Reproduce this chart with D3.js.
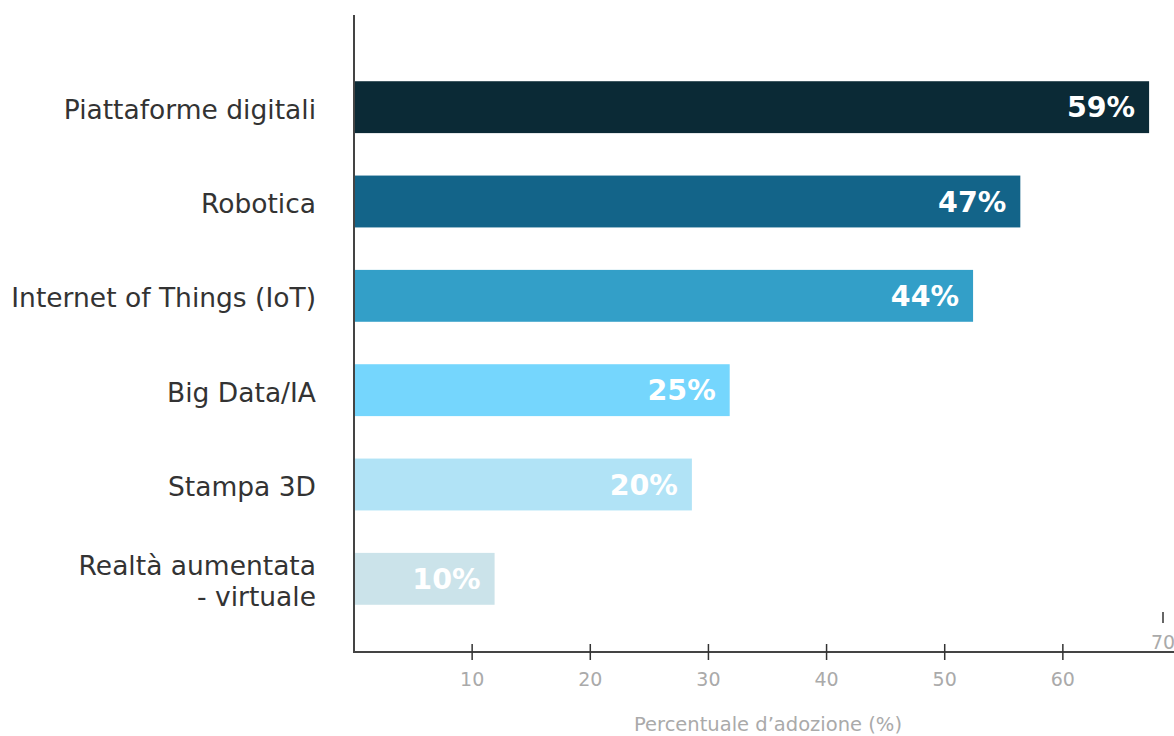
<!DOCTYPE html>
<html>
<head>
<meta charset="utf-8">
<script src="https://cdn.jsdelivr.net/npm/d3@7"></script>
<style>
    body { margin: 0; background: #fff; }
    svg { display: block; font-family: "DejaVu Sans", sans-serif; }
</style>
</head>
<body>
<div id="chart"></div>
<script>
// categories, top to bottom
const categories = [
    "Piattaforme digitali",
    "Robotica",
    "Internet of Things (IoT)",
    "Big Data/IA",
    "Stampa 3D",
    "Realtà aumentata|- virtuale"
];

// bar lengths as drawn
const barValues = [67.3, 56.4, 52.4, 31.8, 28.6, 11.9];

// labels printed inside the bars
const barLabels = ["59%", "47%", "44%", "25%", "20%", "10%"];

const barColors = ["#0b2a36", "#136489", "#339fc8", "#75d6fd", "#b1e3f6", "#cbe3ea"];

const xTicks = [10, 20, 30, 40, 50, 60, 70];
const axisTitle = "Percentuale d\u2019adozione (%)";

// dimensions
const width = 1174, height = 736;
const margin = { top: 15, left: 354, bottom: 84 };
const axisY = height - margin.bottom;

const svg = d3.select("#chart").append("svg")
    .attr("width", width)
    .attr("height", height);

// scales
const x = d3.scaleLinear().domain([0, 70]).range([margin.left, margin.left + 827]);
const y = d3.scaleBand()
    .domain(categories)
    .range([60, 626])
    .paddingInner(0.45)
    .paddingOuter(0.225);

// bars
svg.append("g").selectAll("rect")
    .data(categories)
    .enter().append("rect")
    .attr("x", x(0))
    .attr("y", d => y(d))
    .attr("width", (d, i) => x(barValues[i]) - x(0))
    .attr("height", y.bandwidth())
    .attr("fill", (d, i) => barColors[i]);

// values inside bars
svg.append("g").selectAll("text")
    .data(categories)
    .enter().append("text")
    .attr("x", (d, i) => x(barValues[i]) - 14)
    .attr("y", d => y(d) + y.bandwidth() / 2)
    .attr("dy", "0.36em")
    .attr("text-anchor", "end")
    .attr("fill", "#fff")
    .attr("font-weight", "bold")
    .attr("font-size", 28.5)
    .text((d, i) => barLabels[i]);

// category labels (two-line one uses separate text elements)
const catG = svg.append("g");
categories.forEach(d => {
    const lines = d.split("|");
    const cy = y(d) + y.bandwidth() / 2;
    lines.forEach((l, j) => {
        catG.append("text")
            .attr("x", 316)
            .attr("y", cy + 2 + (j - (lines.length - 1) / 2) * 31)
            .attr("dy", "0.36em")
            .attr("text-anchor", "end")
            .attr("fill", "#333")
            .attr("font-size", 26.5)
            .text(l);
    });
});

// y axis line
svg.append("line")
    .attr("x1", x(0)).attr("x2", x(0))
    .attr("y1", margin.top).attr("y2", axisY)
    .attr("stroke", "#444").attr("stroke-width", 2);

// x axis line
svg.append("line")
    .attr("x1", x(0) - 1).attr("x2", width)
    .attr("y1", axisY).attr("y2", axisY)
    .attr("stroke", "#444").attr("stroke-width", 2);

// ticks (last one gets pushed inside the frame, like the original)
const tickX = d => Math.min(x(d), width - 11);
const inFrame = d => x(d) <= width - 11;

const ticks = svg.append("g").selectAll("g")
    .data(xTicks)
    .enter().append("g")
    .attr("transform", d => "translate(" + tickX(d) + "," + (inFrame(d) ? axisY : axisY - 32) + ")");

ticks.append("line")
    .attr("y1", -8)
    .attr("y2", d => inFrame(d) ? 8 : 3)
    .attr("stroke", "#333")
    .attr("stroke-width", 1.5);

ticks.append("text")
    .attr("y", d => inFrame(d) ? 27 : 22)
    .attr("dy", "0.35em")
    .attr("text-anchor", "middle")
    .attr("fill", "#aaa")
    .attr("font-size", 19)
    .text(d => d);

// axis title
svg.append("text")
    .attr("x", 768)
    .attr("y", 724)
    .attr("dy", "0.35em")
    .attr("text-anchor", "middle")
    .attr("fill", "#aaa")
    .attr("font-size", 19.5)
    .text(axisTitle);
</script>
</body>
</html>
